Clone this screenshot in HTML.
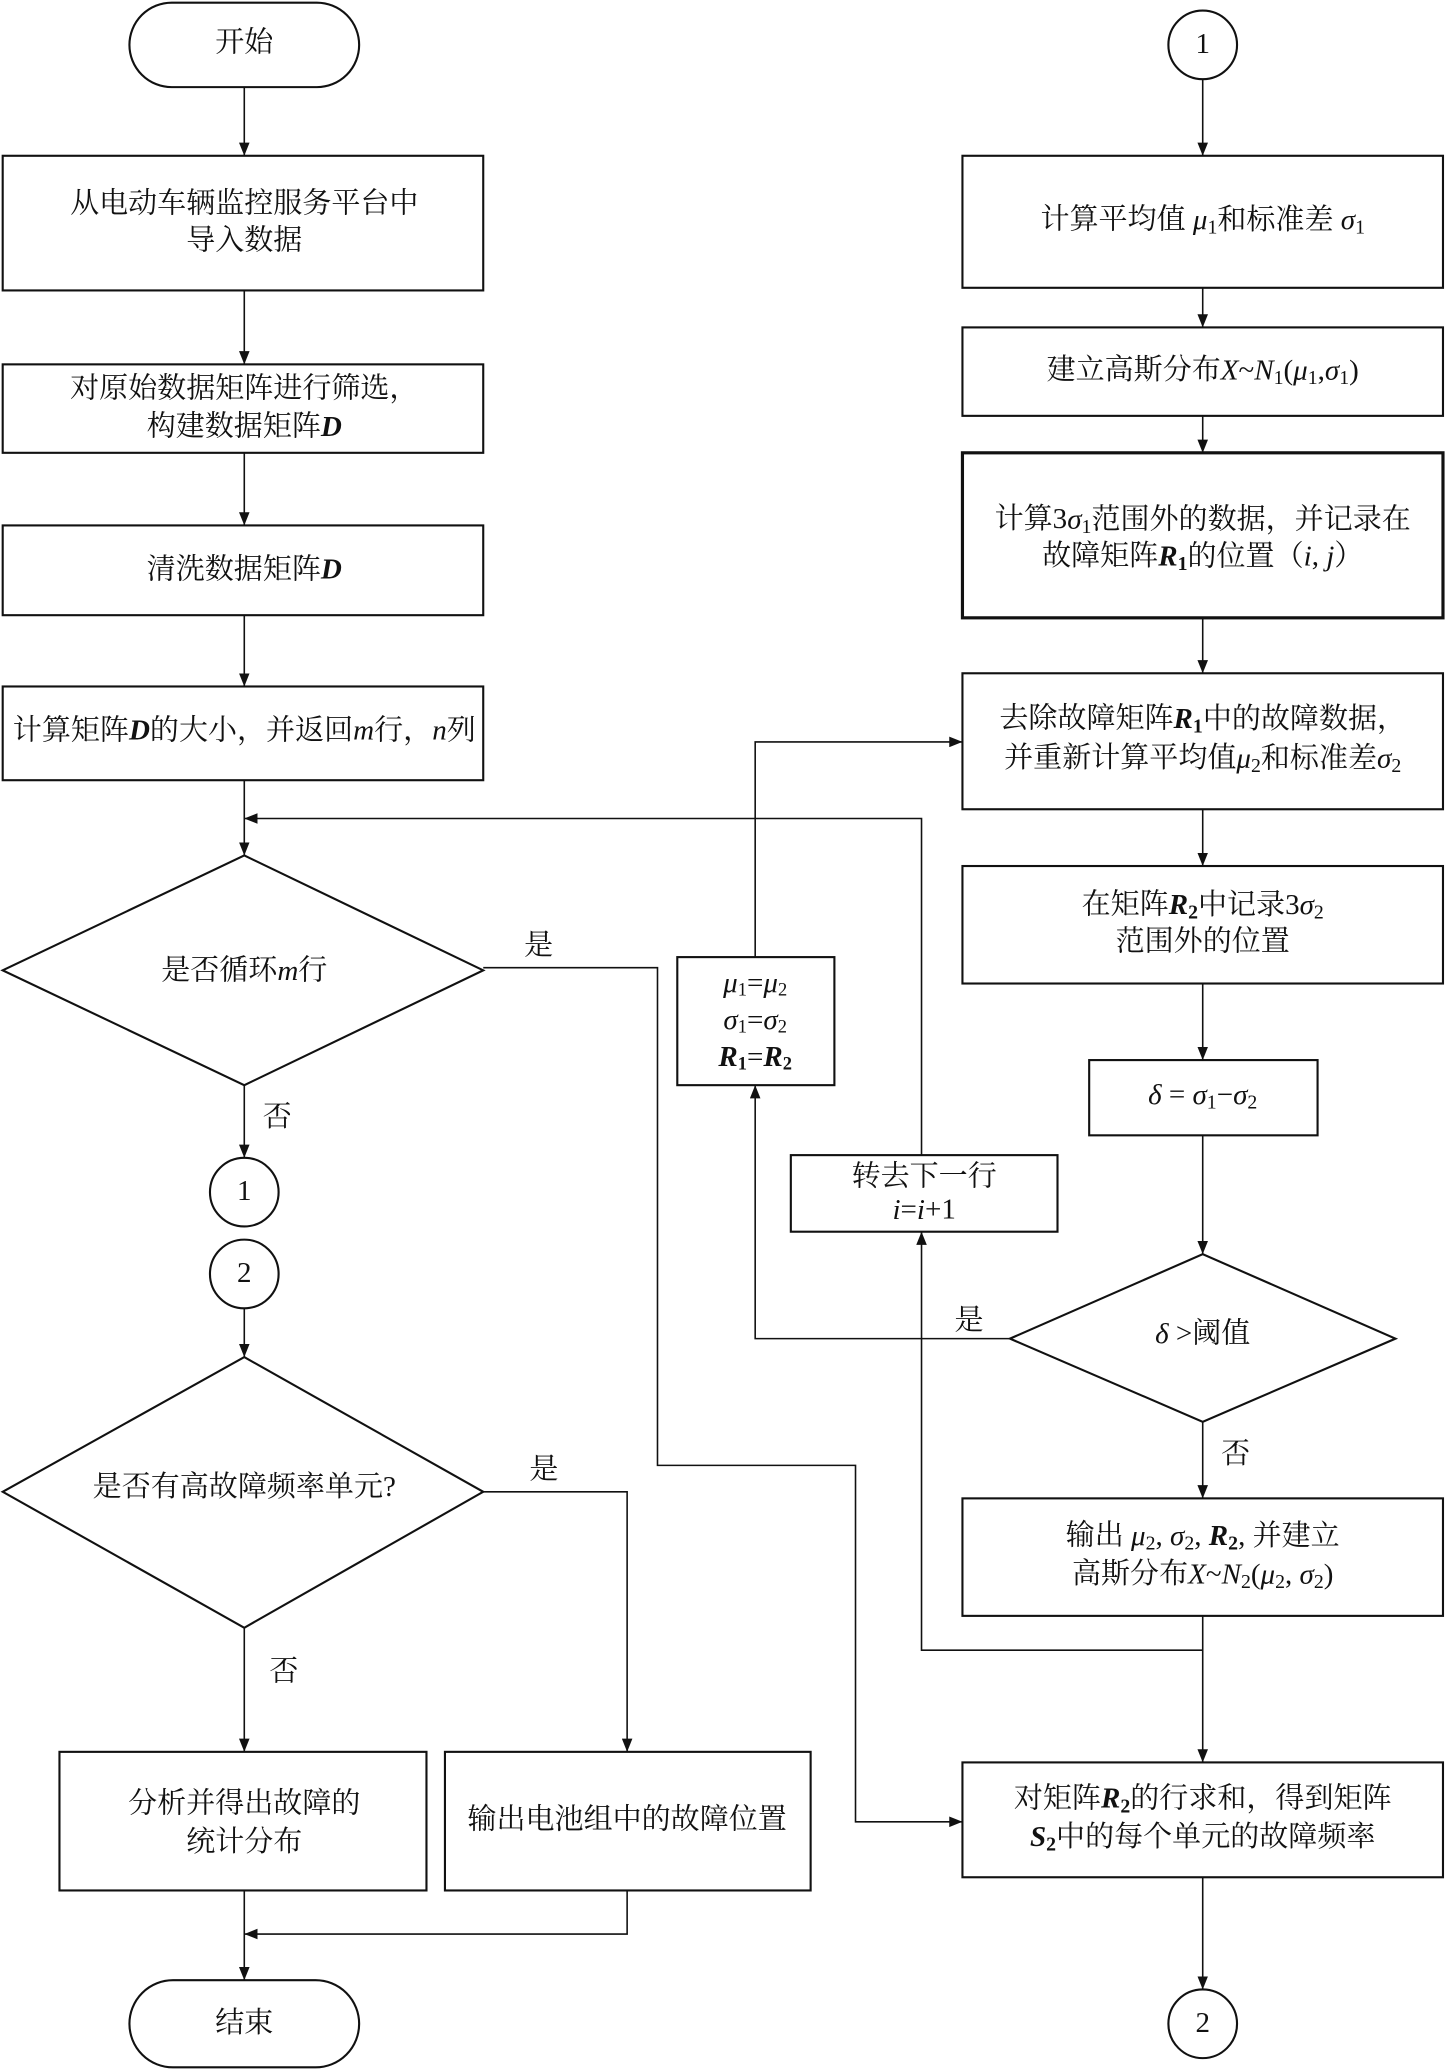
<!DOCTYPE html>
<html><head><meta charset="utf-8"><style>html,body{margin:0;padding:0;background:#fff}svg{display:block}
text{font-family:"Liberation Serif","Noto Serif CJK SC","Noto Sans CJK SC",serif;font-size:22px;fill:#111;text-anchor:middle;dominant-baseline:middle}
.i{font-style:italic}.b{font-weight:bold;font-style:italic}
</style></head><body>
<svg width="1447" height="2070" viewBox="0 0 1096 1568" xmlns="http://www.w3.org/2000/svg">
<defs><marker id="a" markerWidth="10" markerHeight="8" refX="10" refY="4" orient="auto" markerUnits="userSpaceOnUse"><path d="M0,0 L10,4 L0,8 Z" fill="#111"/></marker></defs>
<g fill="none" stroke="#111" stroke-width="1.6">
<rect x="98" y="2" width="174" height="64" rx="32"/>
<rect x="2" y="118" width="364" height="102"/>
<rect x="2" y="276" width="364" height="67"/>
<rect x="2" y="398" width="364" height="68"/>
<rect x="2" y="520" width="364" height="71"/>
<polygon points="2,735 185,648 366,735 185,822"/>
<circle cx="185" cy="903" r="26"/>
<circle cx="185" cy="965" r="26"/>
<polygon points="2,1130 185,1028 366,1130 185,1233"/>
<rect x="45" y="1327" width="278" height="105"/>
<rect x="337" y="1327" width="277" height="105"/>
<rect x="98" y="1500" width="174" height="66" rx="33"/>
<circle cx="911" cy="34" r="26"/>
<rect x="729" y="118" width="364" height="100"/>
<rect x="729" y="248" width="364" height="67"/>
<rect x="729" y="343" width="364" height="125" stroke-width="2.4"/>
<rect x="729" y="510" width="364" height="103"/>
<rect x="729" y="656" width="364" height="89"/>
<rect x="825" y="803" width="173" height="57"/>
<polygon points="765,1014 911,950 1057,1014 911,1077"/>
<rect x="513" y="725" width="119" height="97"/>
<rect x="599" y="875" width="202" height="58"/>
<rect x="729" y="1135" width="364" height="89"/>
<rect x="729" y="1335" width="364" height="87"/>
<circle cx="911" cy="1533" r="26"/>
</g>
<g fill="none" stroke="#111" stroke-width="1.2" marker-end="url(#a)">
<path d="M185,66V118"/><path d="M185,220V276"/><path d="M185,343V398"/><path d="M185,466V520"/><path d="M185,591V648"/>
<path d="M185,822V877"/><path d="M185,991V1028"/><path d="M185,1233V1327"/>
<path d="M366,1130H475V1327"/><path d="M185,1432V1500"/><path d="M475,1432V1465H185"/>
<path d="M366,733H498V1110H648V1380H729"/>
<path d="M911,60V118"/><path d="M911,218V248"/><path d="M911,315V343"/><path d="M911,468V510"/><path d="M911,613V656"/><path d="M911,745V803"/><path d="M911,860V950"/><path d="M911,1077V1135"/><path d="M911,1224V1335"/><path d="M911,1422V1507"/>
<path d="M765,1014H572V822"/><path d="M572,725V562H729"/>
<path d="M911,1250H698V933"/><path d="M698,875V620H185"/>
</g>
<text x="185" y="34">开始</text>
<text x="185" y="156">从电动车辆监控服务平台中</text>
<text x="185" y="184">导入数据</text>
<text x="185" y="296">对原始数据矩阵进行筛选，</text>
<text x="185" y="325">构建数据矩阵<tspan class="b">D</tspan></text>
<text x="185" y="433">清洗数据矩阵<tspan class="b">D</tspan></text>
<text x="185" y="555">计算矩阵<tspan class="b">D</tspan>的大小，并返回<tspan class="i">m</tspan>行，<tspan class="i">n</tspan>列</text>
<text x="185" y="737">是否循环<tspan class="i">m</tspan>行</text>
<text x="408" y="718">是</text><text x="210" y="848">否</text>
<text x="185" y="904">1</text><text x="185" y="966">2</text>
<text x="185" y="1128">是否有高故障频率单元?</text>
<text x="412" y="1115">是</text><text x="215" y="1268">否</text>
<text x="185" y="1368">分析并得出故障的</text><text x="185" y="1397">统计分布</text>
<text x="475" y="1380">输出电池组中的故障位置</text>
<text x="185" y="1534">结束</text>
<text x="911" y="35">1</text>
<text x="911" y="168">计算平均值 <tspan class="i">μ</tspan><tspan font-size="15" dy="5">1</tspan><tspan dy="-5">和标准差 </tspan><tspan class="i">σ</tspan><tspan font-size="15" dy="5">1</tspan></text>
<text x="911" y="282">建立高斯分布<tspan class="i">X</tspan>~<tspan class="i">N</tspan><tspan font-size="15" dy="5">1</tspan><tspan dy="-5">(</tspan><tspan class="i">μ</tspan><tspan font-size="15" dy="5">1</tspan><tspan dy="-5">,</tspan><tspan class="i">σ</tspan><tspan font-size="15" dy="5">1</tspan><tspan dy="-5">)</tspan></text>
<text x="911" y="395">计算3<tspan class="i">σ</tspan><tspan font-size="15" dy="5">1</tspan><tspan dy="-5">范围外的数据，并记录在</tspan></text>
<text x="911" y="423">故障矩阵<tspan class="b">R</tspan><tspan font-size="15" font-weight="bold" dy="5">1</tspan><tspan dy="-5">的位置（</tspan><tspan class="i">i</tspan>, <tspan class="i">j</tspan>）</text>
<text x="911" y="546">去除故障矩阵<tspan class="b">R</tspan><tspan font-size="15" font-weight="bold" dy="5">1</tspan><tspan dy="-5">中的故障数据，</tspan></text>
<text x="911" y="576">并重新计算平均值<tspan class="i">μ</tspan><tspan font-size="15" dy="5">2</tspan><tspan dy="-5">和标准差</tspan><tspan class="i">σ</tspan><tspan font-size="15" dy="5">2</tspan></text>
<text x="911" y="687">在矩阵<tspan class="b">R</tspan><tspan font-size="15" font-weight="bold" dy="5">2</tspan><tspan dy="-5">中记录3</tspan><tspan class="i">σ</tspan><tspan font-size="15" dy="5">2</tspan></text>
<text x="911" y="715">范围外的位置</text>
<text x="911" y="831"><tspan class="i">δ</tspan> = <tspan class="i">σ</tspan><tspan font-size="15" dy="5">1</tspan><tspan dy="-5">−</tspan><tspan class="i">σ</tspan><tspan font-size="15" dy="5">2</tspan></text>
<text x="911" y="1012"><tspan class="i">δ</tspan> &gt;阈值</text>
<text x="734" y="1002">是</text><text x="936" y="1103">否</text>
<text x="572" y="746" font-size="20"><tspan class="i">μ</tspan><tspan font-size="14" dy="5">1</tspan><tspan dy="-5">=</tspan><tspan class="i">μ</tspan><tspan font-size="14" dy="5">2</tspan></text>
<text x="572" y="774" font-size="20"><tspan class="i">σ</tspan><tspan font-size="14" dy="5">1</tspan><tspan dy="-5">=</tspan><tspan class="i">σ</tspan><tspan font-size="14" dy="5">2</tspan></text>
<text x="572" y="802" font-size="20"><tspan class="b">R</tspan><tspan font-size="14" font-weight="bold" dy="5">1</tspan><tspan dy="-5">=</tspan><tspan class="b">R</tspan><tspan font-size="14" font-weight="bold" dy="5">2</tspan></text>
<text x="700" y="893">转去下一行</text>
<text x="700" y="918" font-size="20"><tspan class="i">i</tspan>=<tspan class="i">i</tspan>+1</text>
<text x="911" y="1165">输出 <tspan class="i">μ</tspan><tspan font-size="15" dy="5">2</tspan><tspan dy="-5">, </tspan><tspan class="i">σ</tspan><tspan font-size="15" dy="5">2</tspan><tspan dy="-5">, </tspan><tspan class="b">R</tspan><tspan font-size="15" font-weight="bold" dy="5">2</tspan><tspan dy="-5">, 并建立</tspan></text>
<text x="911" y="1194">高斯分布<tspan class="i">X</tspan>~<tspan class="i">N</tspan><tspan font-size="15" dy="5">2</tspan><tspan dy="-5">(</tspan><tspan class="i">μ</tspan><tspan font-size="15" dy="5">2</tspan><tspan dy="-5">, </tspan><tspan class="i">σ</tspan><tspan font-size="15" dy="5">2</tspan><tspan dy="-5">)</tspan></text>
<text x="911" y="1364">对矩阵<tspan class="b">R</tspan><tspan font-size="15" font-weight="bold" dy="5">2</tspan><tspan dy="-5">的行求和，得到矩阵</tspan></text>
<text x="911" y="1393"><tspan class="b">S</tspan><tspan font-size="15" font-weight="bold" dy="5">2</tspan><tspan dy="-5">中的每个单元的故障频率</tspan></text>
<text x="911" y="1534">2</text>
</svg>
</body></html>
